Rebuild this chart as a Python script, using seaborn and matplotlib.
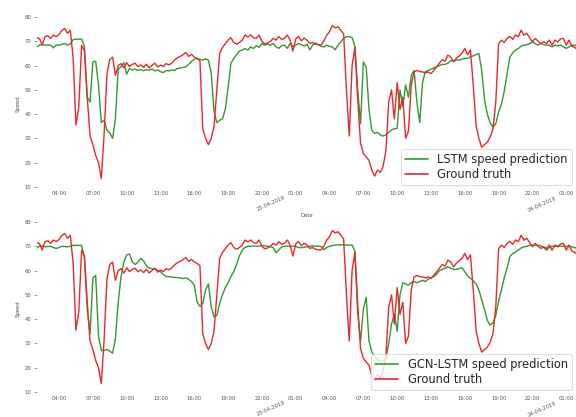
import matplotlib
matplotlib.use("Agg")
import matplotlib.pyplot as plt
import matplotlib.dates as mdates
import pandas as pd
import seaborn as sns

sns.set_style("white")

# Observed speed, 15-minute samples from 22-04-2019 02:00 to 24-04-2019 02:00
ground_truth = [
    71.5, 71.2, 68.5, 71.9,  72.3, 71.2, 72.6, 71.9,  72.8, 74.5, 75.3, 73.3,
    74.5, 63.0, 35.5, 43.0,  68.4, 66.0, 47.0, 31.0,  27.5, 23.0, 20.0, 13.5,
    32.0, 56.5, 62.5, 63.5,  56.0, 60.0, 60.8, 59.0,  61.2, 59.6, 60.5, 61.0,
    59.5, 60.3, 59.2, 60.6,  59.0, 60.1, 61.0, 59.4,  60.2, 59.6, 60.8, 60.3,
    61.0, 62.4, 63.2, 63.8,  64.5, 65.4, 63.8, 64.6,  63.5, 63.0, 62.0, 34.0,
    30.0, 27.5, 30.0, 35.0,  50.0, 65.0, 67.5, 69.0,  70.5, 71.5, 69.5, 68.8,
    69.5, 70.5, 72.6, 71.8,  72.6, 71.5, 71.2, 72.6,  70.0, 69.0, 69.3, 70.0,
    71.2, 70.5, 71.9, 70.8,  71.2, 72.6, 70.5, 66.0,  71.0, 72.0, 70.2, 71.3,
    70.5, 69.1, 69.5, 68.8,  68.6, 68.5, 70.2, 72.5,  74.0, 76.5, 75.5, 76.0,
    74.5, 73.0, 50.0, 31.0,  60.0, 67.5, 46.0, 28.0,  23.8, 22.4, 21.0, 17.0,
    14.5, 17.0, 16.0, 18.5,  25.0, 45.0, 50.0, 38.0,  53.0, 42.0, 47.0, 30.0,
    33.0, 52.0, 57.4, 58.0,  57.5, 57.4, 57.0, 57.4,  56.7, 58.0, 59.5, 61.0,
    62.5, 61.8, 64.3, 63.6,  61.5, 63.0, 64.0, 65.0,  67.1, 64.5, 66.5, 52.0,
    35.4, 30.0, 26.4, 27.5,  28.5, 30.5, 34.0, 45.0,  69.0, 70.5, 69.5, 71.2,
    72.0, 70.8, 72.6, 71.9,  74.6, 72.5, 73.3, 71.5,  69.8, 71.2, 70.0, 69.1,
    69.8, 69.1, 70.5, 68.4,  70.5, 69.8, 71.0, 71.2,  68.4, 70.5, 68.0, 67.5,
    66.5,
]

lstm_pred = [
    67.7, 68.4, 68.7, 68.4,  68.5, 68.4, 67.3, 68.5,  68.4, 68.7, 69.1, 68.4,
    69.0, 70.7, 70.9, 70.9,  70.9, 68.0, 47.0, 45.0,  61.5, 61.8, 52.0, 36.5,
    37.5, 33.3, 32.3, 30.0,  38.0, 58.5, 59.5, 61.2,  56.5, 58.8, 58.2, 58.6,
    58.0, 58.4, 57.9, 58.3,  58.1, 58.6, 57.8, 58.2,  57.5, 57.1, 58.0, 57.8,
    58.2, 58.0, 58.8, 59.0,  59.2, 59.5, 60.5, 61.8,  62.6, 62.9, 62.5, 62.3,
    62.8, 62.2, 57.0, 41.0,  36.5, 37.5, 38.0, 42.0,  51.0, 61.0, 62.9, 64.5,
    66.0, 66.4, 67.0, 66.4,  67.7, 67.0, 68.2, 67.5,  69.1, 68.4, 68.8, 68.4,
    69.1, 67.8, 67.1, 68.2,  68.4, 67.1, 69.1, 67.9,  68.4, 69.1, 68.6, 68.0,
    68.8, 66.5, 68.4, 69.3,  68.6, 68.0, 67.7, 68.4,  67.9, 67.7, 66.5, 68.4,
    69.8, 71.2, 71.9, 71.9,  71.5, 68.0, 50.0, 36.0,  61.5, 59.5, 42.0, 33.4,
    32.0, 32.5, 31.5, 31.0,  31.5, 32.5, 33.5, 34.0,  34.1, 50.0, 43.0, 52.0,
    47.0, 56.0, 58.0, 45.0,  36.5, 53.0, 57.5, 58.0,  58.5, 59.0, 59.5, 60.0,
    60.5, 60.5, 61.0, 62.0,  62.0, 62.3, 62.3, 62.6,  63.0, 63.0, 63.6, 64.0,
    64.5, 65.0, 58.0, 46.0,  40.0, 36.5, 34.7, 36.0,  40.9, 44.0, 49.5, 56.5,
    63.5, 65.2, 66.4, 67.0,  68.0, 68.4, 68.6, 69.0,  69.8, 69.1, 68.4, 69.1,
    68.6, 68.4, 68.4, 67.7,  68.4, 68.2, 68.4, 67.7,  67.1, 67.7, 68.4, 68.4,
    68.0,
]

gcn_lstm_pred = [
    69.1, 70.0, 70.1, 69.8,  69.9, 70.0, 69.5, 69.1,  69.5, 70.0, 69.9, 69.8,
    70.0, 70.4, 70.4, 70.4,  70.4, 65.0, 44.0, 34.0,  57.0, 58.0, 33.0, 27.1,
    27.2, 27.5, 26.8, 26.0,  32.0, 47.0, 57.5, 63.5,  66.5, 66.8, 63.6, 62.5,
    63.5, 65.0, 64.0, 62.0,  61.0, 60.8, 60.6, 60.2,  59.5, 58.4, 57.6, 57.5,
    57.3, 57.2, 57.1, 57.0,  56.7, 57.0, 56.4, 55.5,  54.0, 47.0, 45.3, 46.5,
    52.0, 54.5, 45.0, 41.0,  41.5, 46.5, 50.0, 53.0,  55.0, 57.5, 59.6, 62.5,
    66.0, 68.5, 69.5, 70.0,  70.0, 70.2, 70.0, 70.1,  70.3, 70.2, 70.0, 69.8,
    69.5, 67.3, 68.5, 69.8,  70.0, 70.1, 69.9, 70.0,  70.0, 69.5, 69.4, 69.6,
    69.8, 70.0, 70.2, 70.0,  70.1, 69.9, 68.6, 69.5,  70.0, 70.3, 70.5, 70.6,
    70.6, 70.6, 70.5, 70.5,  70.5, 68.0, 42.0, 31.0,  44.0, 49.0, 31.0, 26.5,
    24.5, 23.5, 22.5, 22.8,  23.5, 30.0, 38.0, 42.0,  35.0, 50.0, 55.0, 54.5,
    54.0, 55.0, 55.5, 55.0,  55.5, 56.0, 55.5, 56.5,  57.0, 57.5, 58.5, 60.0,
    60.5, 61.0, 61.5, 61.0,  60.5, 60.5, 60.8, 61.2,  59.5, 57.8, 56.8, 55.8,
    54.5, 52.0, 48.0, 44.0,  39.5, 37.5, 38.5, 41.5,  47.5, 52.0, 57.0, 61.0,
    65.8, 67.0, 67.6, 68.5,  69.3, 69.8, 70.0, 70.4,  70.5, 70.5, 70.4, 70.2,
    69.5, 68.4, 69.6, 70.0,  70.0, 70.1, 70.0, 70.1,  70.0, 70.0, 69.8, 69.5,
    69.0,
]

times = pd.date_range("2019-04-22 02:00", "2019-04-24 02:00", freq="15min")

prediction_labels = ["LSTM speed prediction", "GCN-LSTM speed prediction"]
y_ticks = [10, 20, 30, 40, 50, 60, 70, 80]

GREEN = "#2f9a2f"
RED = "#e8282a"
TEXT = "#555555"

fig = plt.figure(figsize=(5.76, 4.17), dpi=100)
ax_top = fig.add_axes([0.0634, 0.5422, 0.9392, 0.4199])
ax_bot = fig.add_axes([0.0634, 0.0506, 0.9392, 0.4199])

for ax, pred, name in [(ax_top, lstm_pred, prediction_labels[0]),
                       (ax_bot, gcn_lstm_pred, prediction_labels[1])]:
    sns.lineplot(x=times, y=pred, ax=ax, color=GREEN, lw=1.0, label=name)
    sns.lineplot(x=times, y=ground_truth, ax=ax, color=RED, lw=1.0,
                 label="Ground truth")

    ax.set_xlim(times[0], times[-1])
    ax.set_ylim(8.4, 80.5)
    ax.set_yticks(y_ticks)

    ax.xaxis.set_major_locator(mdates.DayLocator())
    ax.xaxis.set_major_formatter(mdates.DateFormatter("%d-%m-%Y"))
    ax.xaxis.set_minor_locator(mdates.HourLocator(byhour=range(1, 24, 3)))
    ax.xaxis.set_minor_formatter(mdates.DateFormatter("%H:%M"))

    ax.tick_params(axis="x", which="minor", length=0, pad=0.3,
                   labelsize=3.8, labelcolor=TEXT)
    ax.tick_params(axis="x", which="major", length=2.0, width=0.6,
                   color="#888888", pad=1.2, labelsize=3.8, labelcolor=TEXT)
    ax.tick_params(axis="y", length=2.0, width=0.6, color="#888888",
                   pad=1.5, labelsize=3.8, labelcolor=TEXT, left=True)
    for lab in ax.get_xticklabels(which="major"):
        lab.set_rotation(24)
        lab.set_ha("right")
        lab.set_va("top")
        lab.set_rotation_mode("anchor")

    ax.set_xlabel("Date", fontsize=3.8, color=TEXT, labelpad=0.5)
    ax.set_ylabel("Speed", fontsize=3.8, color=TEXT, labelpad=3)

    for side in ["top", "right", "left", "bottom"]:
        ax.spines[side].set_visible(False)

    leg = ax.legend(loc="lower right", fontsize=8.3, frameon=True,
                    handlelength=2.0, borderaxespad=0.5,
                    labelspacing=0.2, borderpad=0.35)
    leg.get_frame().set_edgecolor("#d8d8d8")
    leg.get_frame().set_linewidth(0.8)
    for line in leg.get_lines():
        line.set_linewidth(1.2)

fig.savefig("out.png", dpi=100)
